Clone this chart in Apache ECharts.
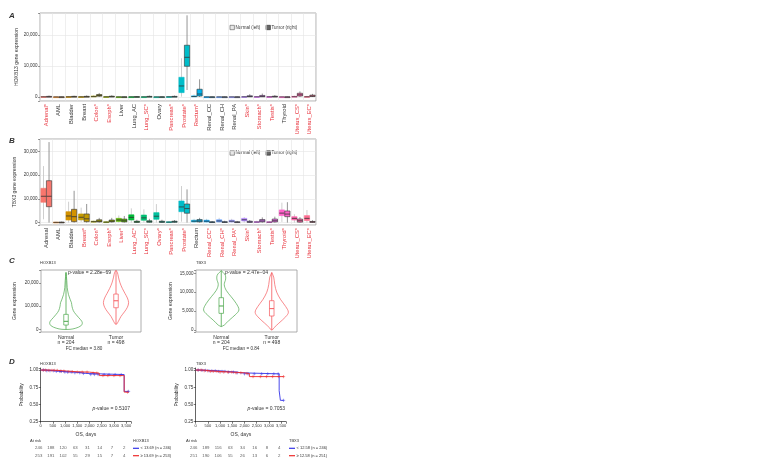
<!DOCTYPE html>
<html>
<head>
<meta charset="utf-8">
<script src="https://cdn.jsdelivr.net/npm/echarts@6/dist/echarts.min.js"></script>
<style>
html, body { margin: 0; padding: 0; background: #fff; }
#container { width: 768px; height: 466px; }
</style>
</head>
<body>
<div id="container"></div>
<script>
// ---- data ----
const catsA = ['Adrenal*','AML','Bladder','Breast','Colon*','Esoph*','Liver','Lung_AC','Lung_SC*','Ovary','Pancreas*','Prostate*','Rectum*','Renal_CC','Renal_CH','Renal_PA','Skin*','Stomach*','Testis*','Thyroid','Uterus_CS*','Uterus_EC*'];
const catsB = ['Adrenal','AML','Bladder','Breast*','Colon*','Esoph*','Liver*','Lung_AC*','Lung_SC*','Ovary*','Pancreas*','Prostate*','Rectum','Renal_CC*','Renal_CH*','Renal_PA*','Skin*','Stomach*','Testis*','Thyroid*','Uterus_CS*','Uterus_EC*'];
const catColors = ['#F8766D','#E88526','#D39200','#C39A00','#AAA300','#93AA00','#5EB300','#00BA38','#00BF74','#00C19F','#00C0B3','#00BDC9','#00B4EF','#00A5FF','#619CFF','#8D91FF','#B385FF','#DB72FB','#EF67EB','#FF61C9','#FF65AC','#FF6C91'];

// [low whisker, q1, median, q3, high whisker]
const hoxNormal = [[0,20,50,100,250],[0,10,20,40,80],[0,20,50,100,200],[0,20,40,90,200],[0,50,120,300,600],[0,20,50,100,200],[0,10,20,50,100],[0,10,30,60,120],[0,10,30,60,120],[0,10,20,40,100],[0,20,50,100,200],[100,1400,3550,6350,12500],[0,50,150,350,800],[0,10,20,40,100],[0,10,20,40,100],[0,10,20,40,100],[0,20,50,100,200],[0,20,50,100,250],[0,20,50,100,250],[0,10,20,40,100],[0,30,80,200,400],[0,20,60,150,350]];
const hoxTumor = [[0,30,80,200,450],[0,10,20,40,80],[0,30,80,200,400],[0,30,80,200,500],[0,250,500,800,1300],[0,40,100,250,550],[0,10,20,50,100],[0,20,50,120,250],[0,30,80,200,450],[0,10,30,60,120],[0,30,80,200,450],[2250,9900,12800,16700,26350],[0,300,950,2500,5700],[0,10,20,40,100],[0,10,20,40,100],[0,10,20,40,100],[0,50,150,400,900],[0,60,200,500,1100],[0,40,100,250,600],[0,10,20,40,100],[0,300,700,1200,1800],[0,150,300,600,1000]];
const tbxNormal = [[1400,8570,11100,14450,23800],[0,50,100,200,400],[0,1100,2800,4600,8800],[300,1150,2250,3650,6300],[0,200,400,600,900],[0,100,200,350,700],[0,500,1100,1800,3000],[0,1100,2200,3300,6000],[0,1000,2000,3200,5600],[0,1400,2700,4200,7800],[0,100,200,350,600],[400,4600,6600,9100,15400],[0,300,600,1000,1600],[0,300,600,1000,1600],[0,300,700,1200,2000],[0,300,600,1000,1600],[0,700,1200,1800,2300],[0,100,250,400,800],[0,100,200,350,700],[300,2950,4000,5350,8400],[0,1100,1800,2500,3500],[0,900,1800,2950,5300]];
const tbxTumor = [[0,6700,11100,17650,33900],[0,50,100,200,400],[0,400,2500,5600,13400],[0,400,1600,3650,7850],[0,300,600,1200,2000],[0,300,600,1100,2000],[0,300,800,1500,2800],[0,100,300,600,1200],[0,150,400,800,1600],[0,100,300,600,1200],[0,150,350,600,1100],[0,3950,5900,7850,14000],[0,300,700,1300,2000],[0,100,200,350,700],[0,100,200,400,800],[0,100,200,350,700],[0,100,300,600,1100],[0,300,700,1300,2200],[0,300,800,1500,2500],[0,2500,3600,4900,8600],[0,200,800,1500,2300],[0,100,300,500,1000]];

// violin profiles: [expression, relative density]
const hoxNormalViolin = [[0,0.23],[500,0.56],[1500,0.85],[2500,0.93],[3500,0.9],[5000,0.73],[6500,0.56],[8000,0.42],[10000,0.34],[11500,0.31],[13000,0.23],[15000,0.14],[18000,0.07],[21000,0.045],[24500,0]];
const hoxTumorViolin = [[2200,0.03],[3500,0.14],[5500,0.28],[7500,0.48],[9500,0.65],[11500,0.72],[13500,0.65],[15500,0.51],[17500,0.37],[20000,0.23],[22500,0.14],[24500,0.08],[25400,0]];
const tbxNormalViolin = [[900,0],[1300,0.17],[2600,0.45],[4000,0.79],[5300,1.0],[7000,0.85],[8800,0.56],[10500,0.28],[12000,0.17],[13500,0.25],[14500,0.23],[15200,0.11],[15700,0]];
const tbxTumorViolin = [[0,0.03],[500,0.11],[1800,0.4],[3500,0.79],[4700,0.94],[6200,0.79],[8000,0.51],[10000,0.28],[12000,0.17],[14000,0.11],[15200,0]];
const hoxViolinStats = [[0,1850,3450,6450,24500],[2200,9300,12300,15200,25400]];
const tbxViolinStats = [[900,4400,6350,8550,15700],[0,3700,5650,7750,15200]];
const groupLabels = ['Normal','Tumor'];
const groupN = [204, 498];

// Kaplan-Meier steps: [day, survival]
const hoxLow = [[0,1],[200,0.99],[600,0.98],[900,0.97],[1400,0.96],[1700,0.95],[1900,0.935],[3420,0.69],[3600,0.69]];
const hoxHigh = [[0,1],[300,0.995],[700,0.985],[1100,0.975],[1500,0.97],[2000,0.955],[2400,0.92],[3420,0.68],[3600,0.68]];
const tbxLow = [[0,1],[200,0.995],[500,0.99],[900,0.98],[1300,0.97],[1700,0.96],[1850,0.945],[3420,0.70],[3470,0.56],[3600,0.56]];
const tbxHigh = [[0,1],[300,0.99],[600,0.98],[1000,0.97],[1500,0.96],[2000,0.95],[2200,0.905],[3600,0.905]];
const hoxLowCensor = [120,250,380,520,640,780,850,990,1100,1250,1400,1600,1750,2050,2200,2350,2600,2800,3050,3300,3600];
const hoxHighCensor = [100,200,330,460,560,680,820,950,1150,1300,1500,1700,1900,2150,2300,2550,2750,3000,3250,3560];
const tbxLowCensor = [110,260,400,540,660,800,940,1080,1200,1350,1550,1700,2000,2150,2400,2700,2950,3200,3380,3600];
const tbxHighCensor = [90,220,350,480,600,720,870,1000,1150,1320,1480,1650,1850,2100,2350,2650,2900,3150,3400,3600];
const riskDays = [0,500,1000,1500,2000,2500,3000,3500];
const hoxRiskLow = [246,188,120,63,31,14,7,2];
const hoxRiskHigh = [253,191,102,55,29,15,7,4];
const tbxRiskLow = [246,189,116,63,34,16,8,4];
const tbxRiskHigh = [251,190,106,55,26,13,6,2];

// ---- styling ----
const FONT = 'Liberation Sans';
const RED = '#e8323c';
const BLUE = '#3434e8';
const KMRED = '#ee2a2a';
const GREEN = '#4aa64a';
const VRED = '#f5575c';
const fmt = v => Math.round(v).toLocaleString('en-US');

function boxItem(offset, tumor) {
  return function (params, api) {
    const c = api.value(0);
    const band = api.size([1, 0])[0];
    const cx = api.coord([c, 0])[0] + offset * band;
    const hw = band * 0.21;
    const y = i => api.coord([c, api.value(i)])[1];
    const col = catColors[c];
    return { type: 'group', children: [
      { type: 'line', shape: { x1: cx, y1: y(1), x2: cx, y2: y(5) }, style: { stroke: tumor ? '#7a7a7a' : '#c2c2c2', lineWidth: 0.8 } },
      { type: 'rect', shape: { x: cx - hw, y: y(4), width: hw * 2, height: Math.max(y(2) - y(4), 0.8) },
        style: { fill: col, stroke: tumor ? '#333' : col, lineWidth: 0.6 } },
      { type: 'line', shape: { x1: cx - hw, y1: y(3), x2: cx + hw, y2: y(3) }, style: { stroke: '#333', lineWidth: 0.8 } }
    ] };
  };
}

function violinItem(profiles) {
  return function (params, api) {
    const c = api.value(0);
    const band = api.size([1, 0])[0];
    const cx = api.coord([c, 0])[0];
    const col = c === 0 ? GREEN : VRED;
    const prof = profiles[c];
    const py = v => api.coord([c, v])[1];
    const pts = prof.map(p => [cx + p[1] * 0.35 * band, py(p[0])])
      .concat(prof.slice().reverse().map(p => [cx - p[1] * 0.35 * band, py(p[0])]));
    const bw = band * 0.045;
    return { type: 'group', children: [
      { type: 'polygon', shape: { points: pts, smooth: 0.35 }, style: { fill: 'none', stroke: col, lineWidth: 0.7 } },
      { type: 'line', shape: { x1: cx, y1: py(api.value(1)), x2: cx, y2: py(api.value(5)) }, style: { stroke: col, lineWidth: 0.8 } },
      { type: 'rect', shape: { x: cx - bw, y: py(api.value(4)), width: bw * 2, height: py(api.value(2)) - py(api.value(4)) },
        style: { fill: '#fff', stroke: col, lineWidth: 0.7 } },
      { type: 'line', shape: { x1: cx - bw, y1: py(api.value(3)), x2: cx + bw, y2: py(api.value(3)) }, style: { stroke: col, lineWidth: 1 } }
    ] };
  };
}

function stepAt(curve, t) {
  let s = curve[0][1];
  curve.forEach(p => { if (p[0] <= t) s = p[1]; });
  return s;
}

const gridLine = { lineStyle: { color: '#e4e4e4', width: 0.6 } };
const tickLbl = { fontSize: 4.5, color: '#333', margin: 2.5, fontFamily: FONT };
const nameStyle = { fontSize: 5, color: '#333', fontFamily: FONT };

function catAxis(grid, cats) {
  return { gridIndex: grid, type: 'category', data: cats,
    axisLine: { show: false }, axisTick: { length: 2, alignWithLabel: true, lineStyle: { color: '#555', width: 0.6 } },
    axisLabel: { rotate: 90, interval: 0, fontSize: 5.8, margin: 3, fontFamily: FONT,
      color: v => v.endsWith('*') ? RED : '#333' },
    splitLine: Object.assign({ show: true }, gridLine) };
}
function valAxis(grid, min, max, split, step, name, gap, lines) {
  return { gridIndex: grid, type: 'value', min: min, max: max, splitNumber: split,
    name: name, nameLocation: 'middle', nameGap: gap, nameMoveOverlap: false, nameTextStyle: nameStyle,
    axisLine: { show: false }, axisTick: { show: true, length: 2, lineStyle: { color: '#555', width: 0.6 } },
    axisLabel: Object.assign({ formatter: v => (v % step === 0 ? fmt(v) : '') }, tickLbl),
    splitLine: Object.assign({ show: lines }, gridLine) };
}
function kmX(grid) {
  return { gridIndex: grid, type: 'value', min: 0, max: 3700, interval: 500,
    name: 'OS, days', nameLocation: 'middle', nameGap: 10, nameMoveOverlap: false, nameTextStyle: nameStyle,
    axisLine: { lineStyle: { color: '#222', width: 0.7 } }, axisTick: { length: 2, lineStyle: { width: 0.6 } },
    axisLabel: Object.assign({}, tickLbl, { fontSize: 4, formatter: v => (v % 500 === 0 ? fmt(v) : '') }),
    splitLine: { show: false } };
}
function kmY(grid) {
  return { gridIndex: grid, type: 'value', min: 0.25, max: 1.03, interval: 0.25,
    name: 'Probability', nameLocation: 'middle', nameGap: 17, nameMoveOverlap: false, nameTextStyle: nameStyle,
    axisLine: { show: true, lineStyle: { color: '#222', width: 0.7 } }, axisTick: { show: true, length: 2, lineStyle: { width: 0.6 } },
    axisLabel: Object.assign({}, tickLbl, { formatter: v => (v <= 1.0001 ? v.toFixed(2) : '') }),
    splitLine: { show: false } };
}
function hiddenX(grid) { return { gridIndex: grid, type: 'value', min: 0, max: 3700, show: false }; }
function hiddenY(grid) { return { gridIndex: grid, type: 'category', data: ['high', 'low'], show: false }; }

function kmSeries(idx, curve, censor, color, name) {
  return [
    { type: 'line', name: name, xAxisIndex: idx, yAxisIndex: idx, data: curve, step: 'end', showSymbol: false,
      lineStyle: { color: color, width: 0.9 }, itemStyle: { color: color }, silent: true },
    { type: 'scatter', xAxisIndex: idx, yAxisIndex: idx, data: censor.map(t => [t, stepAt(curve, t)]),
      symbol: 'path://M5,0V10M0,5H10', symbolSize: 3.2,
      itemStyle: { color: 'none', borderColor: color, borderWidth: 0.6 }, silent: true }
  ];
}
function riskSeries(idx, row, values) {
  return { type: 'scatter', xAxisIndex: idx, yAxisIndex: idx, symbolSize: 1,
    data: riskDays.map((d, i) => [d, row, values[i]]),
    itemStyle: { color: 'rgba(0,0,0,0)' },
    label: { show: true, position: 'inside', formatter: p => p.value[2], fontSize: 4.3, color: '#333', fontFamily: FONT },
    silent: true };
}

const T = (x, y, text, extra) => ({ type: 'text', x: x, y: y, silent: true,
  style: Object.assign({ text: text, fontSize: 4.5, fill: '#333', fontFamily: FONT, align: 'left', verticalAlign: 'middle' }, extra || {}) });
const italP = { rich: { i: { fontStyle: 'italic', fontSize: 5, fontFamily: FONT, fill: '#333' } }, fontSize: 5 };
function boxLegend(x, y) {
  return [
    { type: 'rect', x: x, y: y - 2.2, shape: { width: 4.4, height: 4.4 }, style: { fill: '#e8e8e8', stroke: '#555', lineWidth: 0.6 } },
    T(x + 5.5, y, 'Normal (left)'),
    { type: 'rect', x: x + 36, y: y - 2.2, shape: { width: 4.4, height: 4.4 }, style: { fill: '#666', stroke: '#222', lineWidth: 0.6 } },
    T(x + 41.5, y, 'Tumor (right)')
  ];
}
function kmLegend(x, y, title, lowTxt, highTxt) {
  return [
    T(x, y, title, { fontSize: 4 }),
    { type: 'line', shape: { x1: x, y1: y + 7.3, x2: x + 6, y2: y + 7.3 }, style: { stroke: BLUE, lineWidth: 1.2 } },
    T(x + 7.5, y + 7.3, lowTxt, { fontSize: 4 }),
    { type: 'line', shape: { x1: x, y1: y + 14.7, x2: x + 6, y2: y + 14.7 }, style: { stroke: KMRED, lineWidth: 1.2 } },
    T(x + 7.5, y + 14.7, highTxt, { fontSize: 4 })
  ];
}

const violinAxis = grid => ({ gridIndex: grid, type: 'category', data: groupLabels,
  axisLine: { show: false }, axisTick: { show: false },
  axisLabel: { fontSize: 5, color: '#333', margin: 3, lineHeight: 5.3, fontFamily: FONT,
    formatter: (v, i) => v + '\n' + 'n = ' + groupN[i] } });

let divEle = document.getElementById('container');
let instance = echarts.init(divEle, null, { renderer: 'canvas' });

instance.setOption({
  animation: false,
  textStyle: { fontFamily: FONT },
  grid: [
    { left: 40, top: 13, width: 276, height: 88, show: true, borderColor: '#9a9a9a', borderWidth: 0.8 },
    { left: 40, top: 139, width: 276, height: 86, show: true, borderColor: '#9a9a9a', borderWidth: 0.8 },
    { left: 41, top: 270, width: 100, height: 62, show: true, borderColor: '#9a9a9a', borderWidth: 0.8 },
    { left: 196, top: 270, width: 101, height: 62, show: true, borderColor: '#9a9a9a', borderWidth: 0.8 },
    { left: 40.7, top: 368, width: 90.3, height: 53.7 },
    { left: 195.7, top: 368, width: 90.3, height: 53.7 },
    { left: 38.7, top: 444.5, width: 90.3, height: 15 },
    { left: 193.7, top: 444.5, width: 90.3, height: 15 }
  ],
  xAxis: [catAxis(0, catsA), catAxis(1, catsB), violinAxis(2), violinAxis(3), kmX(4), kmX(5), hiddenX(6), hiddenX(7)],
  yAxis: [
    valAxis(0, -1300, 27100, 3, 10000, 'HOXB13 gene expression', 21, true),
    valAxis(1, -1000, 35200, 4, 10000, 'TBX3 gene expression', 23, true),
    valAxis(2, -1150, 25560, 3, 10000, 'Gene expression', 24, false),
    valAxis(3, -530, 15870, 3, 5000, 'Gene expression', 23, false),
    kmY(4), kmY(5), hiddenY(6), hiddenY(7)
  ],
  series: [
    { type: 'custom', xAxisIndex: 0, yAxisIndex: 0, renderItem: boxItem(-0.22, false), data: hoxNormal.map((d, i) => [i].concat(d)), encode: { x: 0, y: [1, 2, 3, 4, 5] }, silent: true },
    { type: 'custom', xAxisIndex: 0, yAxisIndex: 0, renderItem: boxItem(0.22, true), data: hoxTumor.map((d, i) => [i].concat(d)), encode: { x: 0, y: [1, 2, 3, 4, 5] }, silent: true },
    { type: 'custom', xAxisIndex: 1, yAxisIndex: 1, renderItem: boxItem(-0.22, false), data: tbxNormal.map((d, i) => [i].concat(d)), encode: { x: 0, y: [1, 2, 3, 4, 5] }, silent: true },
    { type: 'custom', xAxisIndex: 1, yAxisIndex: 1, renderItem: boxItem(0.22, true), data: tbxTumor.map((d, i) => [i].concat(d)), encode: { x: 0, y: [1, 2, 3, 4, 5] }, silent: true },
    { type: 'custom', xAxisIndex: 2, yAxisIndex: 2, renderItem: violinItem([hoxNormalViolin, hoxTumorViolin]), data: hoxViolinStats.map((d, i) => [i].concat(d)), encode: { x: 0, y: [1, 2, 3, 4, 5] }, silent: true },
    { type: 'custom', xAxisIndex: 3, yAxisIndex: 3, renderItem: violinItem([tbxNormalViolin, tbxTumorViolin]), data: tbxViolinStats.map((d, i) => [i].concat(d)), encode: { x: 0, y: [1, 2, 3, 4, 5] }, silent: true }
  ].concat(
    kmSeries(4, hoxLow, hoxLowCensor, BLUE, 'hoxLow'),
    kmSeries(4, hoxHigh, hoxHighCensor, KMRED, 'hoxHigh'),
    kmSeries(5, tbxLow, tbxLowCensor, BLUE, 'tbxLow'),
    kmSeries(5, tbxHigh, tbxHighCensor, KMRED, 'tbxHigh'),
    [riskSeries(6, 1, hoxRiskLow), riskSeries(6, 0, hoxRiskHigh), riskSeries(7, 1, tbxRiskLow), riskSeries(7, 0, tbxRiskHigh)]
  ),
  graphic: [
    T(9, 16, 'A', { fontSize: 8, fontStyle: 'italic', fontWeight: 'bold' }),
    T(9, 141, 'B', { fontSize: 8, fontStyle: 'italic', fontWeight: 'bold' }),
    T(9, 261, 'C', { fontSize: 8, fontStyle: 'italic', fontWeight: 'bold' }),
    T(9, 362, 'D', { fontSize: 8, fontStyle: 'italic', fontWeight: 'bold' }),
    T(40, 263, 'HOXB13', { fontSize: 4 }),
    T(196, 263, 'TBX3', { fontSize: 4 }),
    T(40, 364, 'HOXB13', { fontSize: 4 }),
    T(196, 364, 'TBX3', { fontSize: 4 }),
    T(68, 273, '{i|p}-value = 2.28e\u221269', italP),
    T(225, 273, '{i|p}-value = 2.47e\u221204', italP),
    T(84, 348.5, 'FC median = 3.80', { fontSize: 4.6, align: 'center' }),
    T(241, 348.5, 'FC median = 0.84', { fontSize: 4.6, align: 'center' }),
    T(130, 409, '{i|p}-value = 0.5107', Object.assign({ align: 'right' }, italP)),
    T(285, 409, '{i|p}-value = 0.7053', Object.assign({ align: 'right' }, italP)),
    T(30, 441, 'At risk', { fontSize: 4 }),
    T(186, 441, 'At risk', { fontSize: 4 })
  ].concat(
    boxLegend(230, 27.5),
    boxLegend(230, 153),
    kmLegend(133, 441, 'HOXB13', '< 13.69 (n = 246)', '\u2265 13.69 (n = 253)'),
    kmLegend(289, 441, 'TBX3', '< 12.58 (n = 246)', '\u2265 12.58 (n = 251)')
  )
});
</script>
</body>
</html>
